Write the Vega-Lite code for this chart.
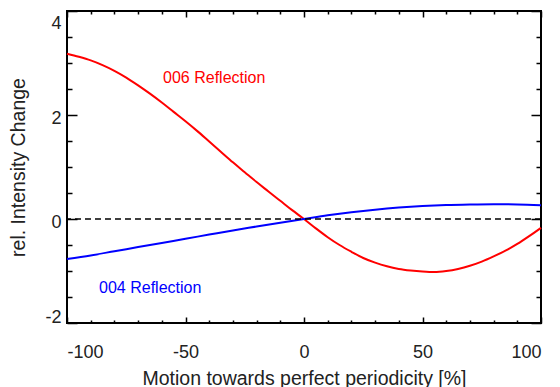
{
  "$schema": "https://vega.github.io/schema/vega-lite/v6.json",
  "width": 474,
  "height": 312,
  "autosize": {"type": "none"},
  "padding": {"left": 67, "top": 11, "right": 19, "bottom": 64},
  "background": "white",
  "datasets": {
    "curves": [
      {"x": -100, "y": 3.18, "s": "006"}, {"x": -95, "y": 3.12, "s": "006"}, {"x": -90, "y": 3.05, "s": "006"},
      {"x": -85, "y": 2.96, "s": "006"}, {"x": -80, "y": 2.85, "s": "006"}, {"x": -75, "y": 2.72, "s": "006"},
      {"x": -70, "y": 2.57, "s": "006"}, {"x": -65, "y": 2.41, "s": "006"}, {"x": -60, "y": 2.24, "s": "006"},
      {"x": -55, "y": 2.06, "s": "006"}, {"x": -50, "y": 1.88, "s": "006"}, {"x": -45, "y": 1.69, "s": "006"},
      {"x": -40, "y": 1.49, "s": "006"}, {"x": -35, "y": 1.29, "s": "006"}, {"x": -30, "y": 1.09, "s": "006"},
      {"x": -25, "y": 0.9, "s": "006"}, {"x": -20, "y": 0.71, "s": "006"}, {"x": -15, "y": 0.53, "s": "006"},
      {"x": -10, "y": 0.35, "s": "006"}, {"x": -5, "y": 0.17, "s": "006"}, {"x": 0, "y": 0.0, "s": "006"},
      {"x": 5, "y": -0.18, "s": "006"}, {"x": 10, "y": -0.35, "s": "006"}, {"x": 15, "y": -0.5, "s": "006"},
      {"x": 20, "y": -0.63, "s": "006"}, {"x": 25, "y": -0.75, "s": "006"}, {"x": 30, "y": -0.84, "s": "006"},
      {"x": 35, "y": -0.91, "s": "006"}, {"x": 40, "y": -0.96, "s": "006"}, {"x": 45, "y": -0.99, "s": "006"},
      {"x": 50, "y": -1.01, "s": "006"}, {"x": 55, "y": -1.02, "s": "006"}, {"x": 60, "y": -1.0, "s": "006"},
      {"x": 65, "y": -0.96, "s": "006"}, {"x": 70, "y": -0.9, "s": "006"}, {"x": 75, "y": -0.82, "s": "006"},
      {"x": 80, "y": -0.72, "s": "006"}, {"x": 85, "y": -0.61, "s": "006"}, {"x": 90, "y": -0.48, "s": "006"},
      {"x": 95, "y": -0.33, "s": "006"}, {"x": 100, "y": -0.17, "s": "006"},
      {"x": -100, "y": -0.77, "s": "004"}, {"x": -90, "y": -0.7, "s": "004"}, {"x": -80, "y": -0.62, "s": "004"},
      {"x": -70, "y": -0.54, "s": "004"}, {"x": -60, "y": -0.46, "s": "004"}, {"x": -50, "y": -0.38, "s": "004"},
      {"x": -40, "y": -0.3, "s": "004"}, {"x": -30, "y": -0.22, "s": "004"}, {"x": -20, "y": -0.145, "s": "004"},
      {"x": -10, "y": -0.07, "s": "004"}, {"x": 0, "y": 0.0, "s": "004"}, {"x": 10, "y": 0.07, "s": "004"},
      {"x": 20, "y": 0.13, "s": "004"}, {"x": 30, "y": 0.18, "s": "004"}, {"x": 40, "y": 0.22, "s": "004"},
      {"x": 50, "y": 0.25, "s": "004"}, {"x": 60, "y": 0.27, "s": "004"}, {"x": 70, "y": 0.28, "s": "004"},
      {"x": 80, "y": 0.285, "s": "004"}, {"x": 90, "y": 0.28, "s": "004"}, {"x": 100, "y": 0.265, "s": "004"}
    ],
    "labels": [
      {"x": -37.9, "y": 2.606, "s": "006", "label": "006 Reflection"},
      {"x": -64.9, "y": -1.429, "s": "004", "label": "004 Reflection"}
    ],
    "zero": [{"y": 0}]
  },
  "resolve": {"axis": {"x": "independent", "y": "independent"}},
  "layer": [
    {
      "data": {"name": "curves"},
      "mark": {"type": "line", "strokeWidth": 2, "interpolate": "monotone"},
      "encoding": {
        "x": {"field": "x", "type": "quantitative", "scale": {"domain": [-100, 100], "nice": false, "zero": false},
          "axis": {"orient": "bottom", "zindex": 1,
            "values": [-100, -90, -80, -70, -60, -50, -40, -30, -20, -10, 0, 10, 20, 30, 40, 50, 60, 70, 80, 90, 100],
            "ticks": false, "domain": false, "grid": true, "gridColor": "black", "gridWidth": 1.5, "gridOpacity": 1,
            "gridDash": {"condition": {"test": "datum.value % 50 === 0", "value": [6, 300, 6, 1000]}, "value": [3, 306, 3, 1000]},
            "labelExpr": "datum.value % 50 === 0 ? '' + datum.value : ''",
            "labelBaseline": "alphabetic", "labelPadding": 34, "title": "Motion towards perfect periodicity [%]",
            "titleY": 61, "titleBaseline": "alphabetic"}},
        "y": {"field": "y", "type": "quantitative", "scale": {"domain": [-2, 4], "nice": false, "zero": false},
          "axis": {"orient": "left", "zindex": 1,
            "values": [-2, -1.5, -1, -0.5, 0, 0.5, 1, 1.5, 2, 2.5, 3, 3.5, 4],
            "ticks": false, "domain": false, "grid": true, "gridColor": "black", "gridWidth": 1.5, "gridOpacity": 1,
            "gridDash": {"condition": {"test": "datum.value % 2 === 0", "value": [10, 454, 10, 1000]}, "value": [5, 464, 5, 1000]},
            "labelExpr": "datum.value % 2 === 0 ? '' + datum.value : ''",
            "labelPadding": 6, "labelFlush": true, "labelOffset": 3, "title": "rel. Intensity Change",
            "titleX": -42.5, "titleBaseline": "alphabetic"}},
        "color": {"field": "s", "type": "nominal", "scale": {"domain": ["006", "004"], "range": ["#ff0000", "#0000ff"]}, "legend": null}
      }
    },
    {
      "data": {"name": "zero"},
      "mark": {"type": "rule", "color": "black", "strokeWidth": 1.5, "strokeDash": [6, 4]},
      "encoding": {
        "y": {"field": "y", "type": "quantitative", "scale": {"domain": [-2, 4], "nice": false, "zero": false}, "axis": null}
      }
    },
    {
      "data": {"name": "labels"},
      "mark": {"type": "text", "font": "Liberation Sans", "fontSize": 16, "align": "center", "baseline": "alphabetic"},
      "encoding": {
        "x": {"field": "x", "type": "quantitative", "scale": {"domain": [-100, 100], "nice": false, "zero": false}, "axis": null},
        "y": {"field": "y", "type": "quantitative", "scale": {"domain": [-2, 4], "nice": false, "zero": false}, "axis": null},
        "text": {"field": "label"},
        "color": {"field": "s", "type": "nominal", "scale": {"domain": ["006", "004"], "range": ["#ff0000", "#0000ff"]}, "legend": null}
      }
    }
  ],
  "config": {
    "view": {"stroke": "black", "strokeWidth": 2},
    "axis": {
      "labelFont": "Liberation Sans", "labelFontSize": 18, "labelColor": "#222222",
      "titleFont": "Liberation Sans", "titleFontSize": 19.5, "titleFontWeight": "normal", "titleColor": "#222222"
    }
  }
}
